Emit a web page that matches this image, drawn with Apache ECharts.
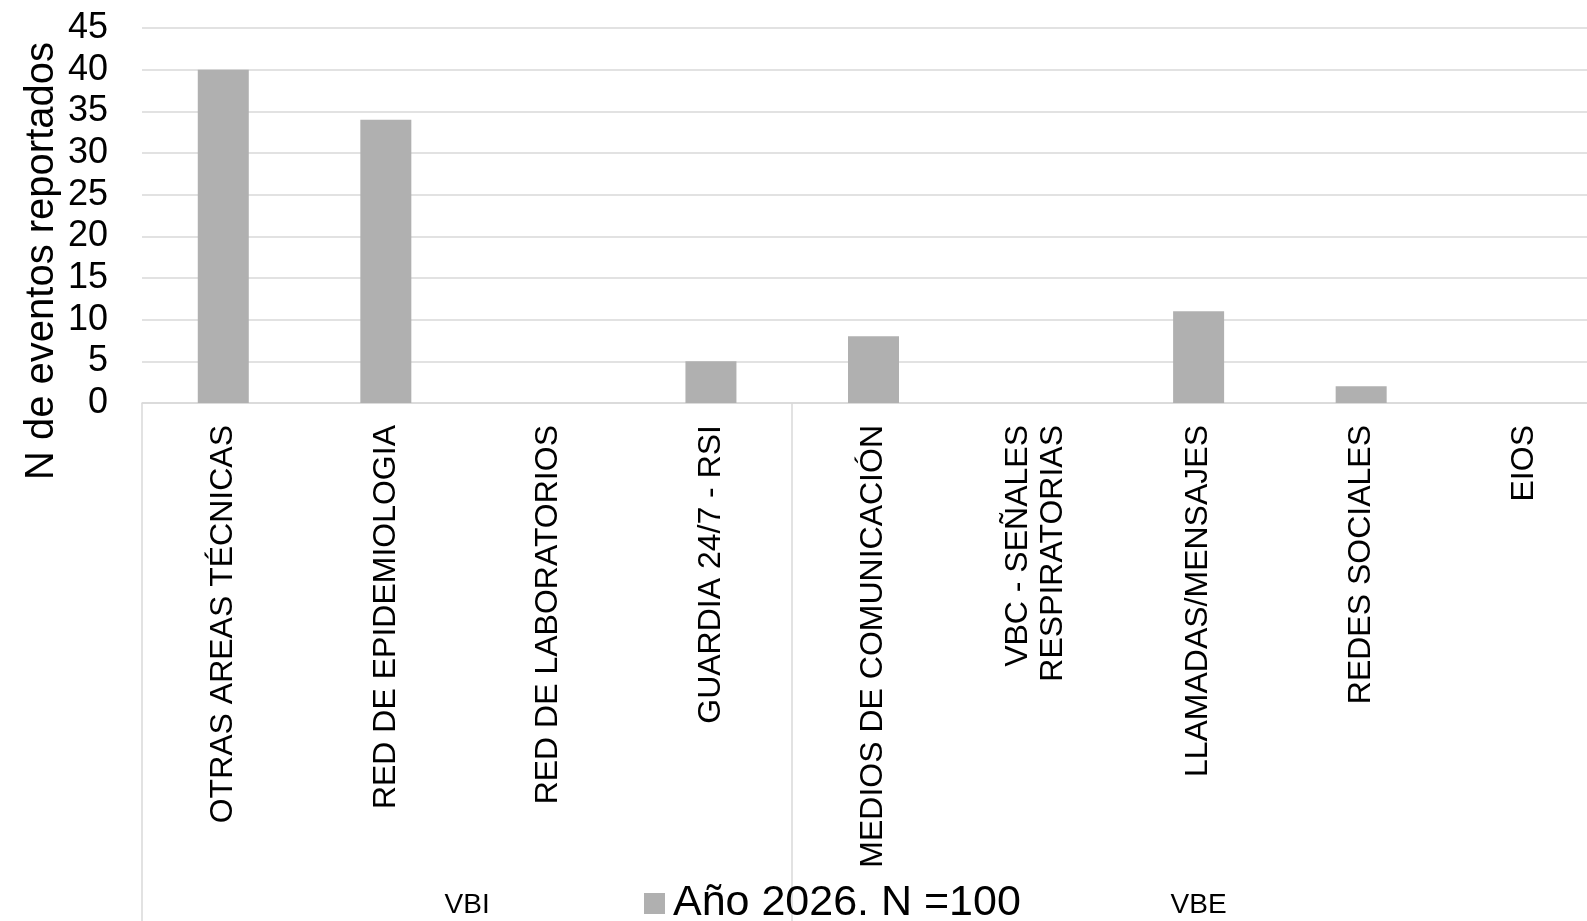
<!DOCTYPE html>
<html>
<head>
<meta charset="utf-8">
<script src="https://cdn.jsdelivr.net/npm/echarts@6/dist/echarts.min.js"></script>
<style>
html,body{margin:0;padding:0;background:#fff;}
#chart{width:1587px;height:921px;}
</style>
</head>
<body>
<div id="chart"></div>
<script>
const categories = [
  'OTRAS AREAS TÉCNICAS',
  'RED DE EPIDEMIOLOGIA',
  'RED DE LABORATORIOS',
  'GUARDIA 24/7 - RSI',
  'MEDIOS DE COMUNICACIÓN',
  'VBC - SEÑALES\nRESPIRATORIAS',
  'LLAMADAS/MENSAJES',
  'REDES SOCIALES',
  'EIOS'
];
const values2026 = [40, 34, 0, 5, 8, 0, 11, 2, 0];
const seriesName = 'Año 2026. N =100';
const groupNames = ['VBI', 'VBE'];
const groupSizes = [4, 5];
const yTicks = [0, 5, 10, 15, 20, 25, 30, 35, 40, 45];
const yTitle = 'N de eventos reportados';

// group boundaries and centers (in category units)
const groupBounds = [0];
groupSizes.forEach(s => groupBounds.push(groupBounds[groupBounds.length - 1] + s));
const groupCenters = groupSizes.map((s, i) => groupBounds[i] + s / 2);

const FONT = 'Liberation Sans, Arial, sans-serif';
const GRID_COLOR = '#d9d9d9';

const chart = echarts.init(document.getElementById('chart'), null, {renderer: 'canvas'});
chart.setOption({
  animation: false,
  backgroundColor: '#ffffff',
  textStyle: {fontFamily: FONT, color: '#000'},
  grid: {left: 142, top: 28, width: 1463, height: 375, containLabel: false, outerBoundsMode: 'none'},
  legend: {
    data: [seriesName],
    left: 644,
    top: 882,
    padding: 0,
    icon: 'rect',
    itemWidth: 21,
    itemHeight: 21,
    itemGap: 10,
    textStyle: {fontFamily: FONT, fontSize: 43, color: '#000', padding: [0, 0, 0, 3]}
  },
  xAxis: [
    {
      type: 'category',
      data: categories,
      axisLine: {show: true, lineStyle: {color: GRID_COLOR, width: 1.5}},
      axisTick: {show: false},
      axisLabel: {
        interval: 0,
        rotate: 90,
        margin: 22,
        fontSize: 32,
        lineHeight: 35,
        fontFamily: FONT,
        color: '#000'
      }
    },
    {
      type: 'value',
      min: 0,
      max: groupBounds[groupBounds.length - 1],
      position: 'bottom',
      offset: 518,
      axisLine: {show: false},
      splitLine: {show: false},
      axisTick: {
        show: true,
        inside: true,
        length: 518,
        customValues: groupBounds,
        lineStyle: {color: GRID_COLOR, width: 1.5}
      },
      axisLabel: {
        show: true,
        inside: true,
        margin: 2,
        customValues: groupCenters,
        fontSize: 28,
        fontFamily: FONT,
        color: '#000',
        formatter: function (v) {
          const i = groupCenters.indexOf(v);
          return i >= 0 ? groupNames[i] : '';
        }
      }
    }
  ],
  yAxis: {
    type: 'value',
    min: yTicks[0],
    max: yTicks[yTicks.length - 1],
    interval: yTicks[1] - yTicks[0],
    axisLine: {show: false},
    axisTick: {show: false},
    splitLine: {show: true, lineStyle: {color: GRID_COLOR, width: 1.5}},
    axisLabel: {fontSize: 36, margin: 34, color: '#000', fontFamily: FONT}
  },
  graphic: [
    {
      type: 'text',
      x: 42,
      y: 261,
      rotation: Math.PI / 2,
      style: {
        text: yTitle,
        fontSize: 40,
        fontFamily: FONT,
        fill: '#000',
        align: 'center',
        verticalAlign: 'middle'
      }
    }
  ],
  series: [
    {
      name: seriesName,
      type: 'bar',
      xAxisIndex: 0,
      data: values2026,
      barWidth: 51,
      itemStyle: {color: '#b0b0b0'}
    }
  ]
});
</script>
</body>
</html>
